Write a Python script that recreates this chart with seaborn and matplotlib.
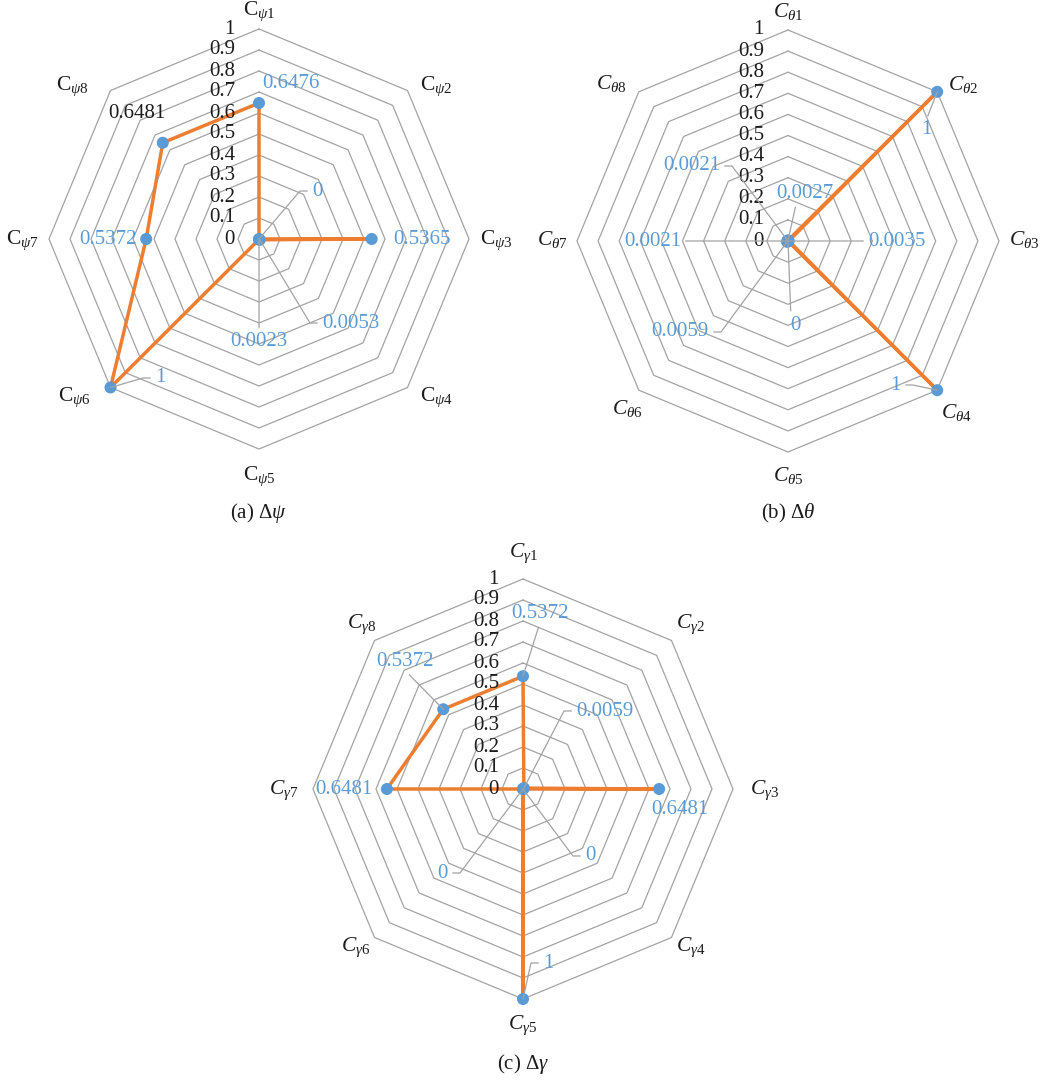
import numpy as np
import pandas as pd
import matplotlib
matplotlib.use("Agg")
import matplotlib.pyplot as plt
import matplotlib.transforms as mtransforms
import seaborn as sns

sns.set_style("white")
plt.rcParams["font.family"] = ["Liberation Serif", "DejaVu Serif"]
plt.rcParams["mathtext.fontset"] = "custom"
plt.rcParams["mathtext.rm"] = "Liberation Serif"
plt.rcParams["mathtext.it"] = "Liberation Serif:italic"
plt.rcParams["mathtext.bf"] = "Liberation Serif:bold"

# ---------------------------------------------------------------- data
ring_ticks = [0, 0.1, 0.2, 0.3, 0.4, 0.5, 0.6, 0.7, 0.8, 0.9, 1]
ring_tick_labels = ["0", "0.1", "0.2", "0.3", "0.4", "0.5", "0.6", "0.7", "0.8", "0.9", "1"]

psi_cats = [r"$\mathrm{C}_{\psi 1}$", r"$\mathrm{C}_{\psi 2}$", r"$\mathrm{C}_{\psi 3}$",
            r"$\mathrm{C}_{\psi 4}$", r"$\mathrm{C}_{\psi 5}$", r"$\mathrm{C}_{\psi 6}$",
            r"$\mathrm{C}_{\psi 7}$", r"$\mathrm{C}_{\psi 8}$"]
psi_values = [0.6476, 0, 0.5365, 0.0053, 0.0023, 1, 0.5372, 0.6481]

theta_cats = [r"$C_{\theta 1}$", r"$C_{\theta 2}$", r"$C_{\theta 3}$", r"$C_{\theta 4}$",
              r"$C_{\theta 5}$", r"$C_{\theta 6}$", r"$C_{\theta 7}$", r"$C_{\theta 8}$"]
theta_values = [0.0027, 1, 0.0035, 1, 0, 0.0059, 0.0021, 0.0021]

gamma_cats = [r"$C_{\gamma 1}$", r"$C_{\gamma 2}$", r"$C_{\gamma 3}$", r"$C_{\gamma 4}$",
              r"$C_{\gamma 5}$", r"$C_{\gamma 6}$", r"$C_{\gamma 7}$", r"$C_{\gamma 8}$"]
gamma_values = [0.5372, 0.0059, 0.6481, 0, 1, 0, 0.6481, 0.5372]

captions = [r"(a) $\Delta\psi$", r"(b) $\Delta\theta$", r"(c) $\Delta\gamma$"]

# ---------------------------------------------------------------- style
ORANGE = "#ED7D31"
BLUE = "#5B9BD5"
GRID = "#A3A3A3"
INK = "#1c1c1c"
FS = 15
CAT_FS = 15.5
STUB = 10

W, H = 1041, 1080
fig = plt.figure(figsize=(W / 100, H / 100), dpi=100)

cat_ha = ["center", "left", "left", "left", "center", "right", "right", "right"]

# layout of each panel: centre (px), radius (px), category label offsets,
# data-label placement (dx, dy from centre, ha, leader kind, relpos)
panels = [
    dict(center=(259, 239), R=210, cats=psi_cats, values=psi_values,
         cat_off=[(0, 18), (13, 4), (11, -1), (13, -10), (0, -27), (-20, -10), (-10, -1), (-22, 4)],
         labels=[(3, 156, "left", None, None), (53, 48, "left", "stub", None),
                 (134, 0, "left", None, None), (63, -84, "left", "stub", None),
                 (0, -103, "center", "line", None), (-104, -139, "left", "stub", None),
                 (-122, 0, "right", None, None), (-122, 126, "center", None, None)],
         label_colors=[BLUE, BLUE, BLUE, BLUE, BLUE, BLUE, BLUE, INK],
         caption_xy=(259, 513)),
    dict(center=(788, 241), R=211, cats=theta_cats, values=theta_values,
         cat_off=[(0, 19), (11, 7), (10, 1), (4, -22), (0, -23), (4, -18), (-9, 1), (-12, 8)],
         labels=[(17, 48, "center", "line", (0.35, 0)), (138, 111, "center", "line", None),
                 (80, 0, "left", "line", None), (113, -144, "right", "stub", None),
                 (7, -84, "center", "line", (0.1, 1)), (-79, -91, "right", "stub", None),
                 (-107, 0, "right", "line", None), (-68, 75, "right", "stub", None)],
         label_colors=[BLUE] * 8,
         caption_xy=(788, 513)),
    dict(center=(523, 789), R=210, cats=gamma_cats, values=gamma_values,
         cat_off=[(0, 26), (4.5, 16), (17, -1), (4.5, -10), (0, -26), (-4.5, -10), (-15, -1), (1.5, 16)],
         labels=[(17, 176, "center", "line", None), (53, 78, "left", "stub", None),
                 (157, -20, "center", None, None), (62, -67, "left", "stub", None),
                 (20, -174, "left", "stub", None), (-75, -84, "right", "stub", None),
                 (-150, 0, "right", None, None), (-118, 128, "center", "line", None)],
         label_colors=[BLUE] * 8,
         caption_xy=(523, 1064)),
]


def shifted(ax, dx, dy):
    return mtransforms.offset_copy(ax.transData, fig=fig, x=dx, y=dy, units="dots")


for p, caption in zip(panels, captions):
    cx, cy = p["center"]
    R = p["R"]
    rect = [(cx - R) / W, (H - cy - R) / H, 2 * R / W, 2 * R / H]
    ax = fig.add_axes(rect, projection="polar")
    ax.set_theta_zero_location("N")
    ax.set_theta_direction(-1)

    n = len(p["cats"])
    theta = np.arange(n) * 2 * np.pi / n
    closed = np.append(theta, 2 * np.pi)

    # octagonal grid rings
    for t in ring_ticks[1:]:
        ax.plot(closed, [t] * (n + 1), color=GRID, lw=0.9, clip_on=False, zorder=1)

    # data polygon and markers
    values = p["values"]
    df = pd.DataFrame({"angle": closed, "value": values + [values[0]]})
    sns.lineplot(data=df, x="angle", y="value", sort=False, estimator=None,
                 color=ORANGE, lw=2.5, ax=ax, zorder=3)
    ax.lines[-1].set_clip_on(False)
    sns.scatterplot(x=theta, y=values, color=BLUE, s=75, edgecolor="none",
                    ax=ax, zorder=4, clip_on=False)

    ax.set_ylim(0, 1)
    ax.set_xticks([])
    ax.set_yticks([])
    ax.set_xlabel("")
    ax.set_ylabel("")
    ax.grid(False)
    ax.spines["polar"].set_visible(False)
    ax.patch.set_visible(False)

    # radial scale labels along the first spoke
    for t, s in zip(ring_ticks, ring_tick_labels):
        ax.text(0, t, s, transform=shifted(ax, -24, 0), ha="right", va="center",
                fontsize=FS, color=INK, zorder=5)

    # category labels
    for th, lab, (dx, dy), ha in zip(theta, p["cats"], p["cat_off"], cat_ha):
        ax.annotate(lab, xy=(th, 1), xytext=(dx, dy), textcoords="offset pixels",
                    ha=ha, va="center", fontsize=CAT_FS, color=INK, annotation_clip=False)

    # data labels with leader lines
    for th, v, (dx, dy, ha, kind, rp), col in zip(theta, values, p["labels"], p["label_colors"]):
        px, py = R * v * np.sin(th), R * v * np.cos(th)
        arrow = None
        if kind == "stub":
            if ha == "left":
                relpos, cxn = (0, 0.5), dx - 2 - STUB
            else:
                relpos, cxn = (1, 0.5), dx + 2 + STUB
            angB = np.degrees(np.arctan2(dy - py, cxn - px))
            arrow = dict(arrowstyle="-", color=GRID, lw=0.9, shrinkA=1, shrinkB=0,
                         relpos=relpos,
                         connectionstyle=f"angle,angleA=0,angleB={angB:.2f},rad=0")
        elif kind == "line":
            if rp is None:
                if abs(dy - py) < 5:
                    rp = (0, 0.5) if ha == "left" else (1, 0.5)
                elif dy > py:
                    rp = (0.5, 0)
                else:
                    rp = (0.5, 1)
            arrow = dict(arrowstyle="-", color=GRID, lw=0.9, shrinkA=1, shrinkB=0,
                         relpos=rp, connectionstyle="arc3,rad=0")
        ax.annotate(format(v, "g"), xy=(th, v), xytext=(0, 0),
                    textcoords=shifted(ax, dx, dy), ha=ha, va="center",
                    fontsize=FS, color=col, arrowprops=arrow,
                    annotation_clip=False, zorder=5)

    fx, fy = p["caption_xy"]
    fig.text(fx / W, 1 - fy / H, caption, ha="center", va="center",
             fontsize=FS, color=INK)

fig.savefig("out.png", dpi=100)
